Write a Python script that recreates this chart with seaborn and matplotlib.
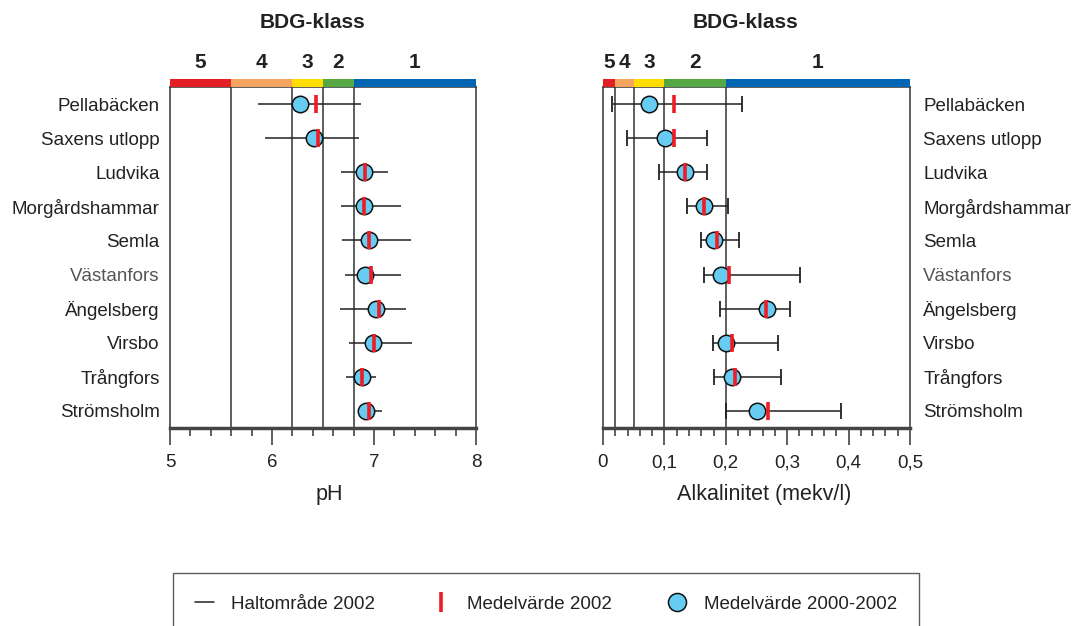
import pandas as pd
import numpy as np
import seaborn as sns
import matplotlib.pyplot as plt
from matplotlib.lines import Line2D
from matplotlib.patches import Rectangle
from matplotlib.transforms import blended_transform_factory
from matplotlib.ticker import MultipleLocator, FuncFormatter

# Data
stations = ['Pellabäcken', 'Saxens utlopp', 'Ludvika', 'Morgårdshammar', 'Semla',
            'Västanfors', 'Ängelsberg', 'Virsbo', 'Trångfors', 'Strömsholm']

ph_min = [5.86, 5.93, 6.68, 6.68, 6.69, 6.72, 6.67, 6.75, 6.73, 6.88]
ph_max = [6.87, 6.85, 7.14, 7.26, 7.36, 7.26, 7.31, 7.37, 7.02, 7.08]
ph_mean_2002 = [6.43, 6.45, 6.91, 6.90, 6.95, 6.97, 7.05, 7.00, 6.88, 6.95]
ph_mean_00_02 = [6.27, 6.41, 6.90, 6.90, 6.95, 6.91, 7.02, 6.99, 6.88, 6.92]

alk_min = [0.014, 0.039, 0.091, 0.136, 0.159, 0.164, 0.190, 0.179, 0.181, 0.201]
alk_max = [0.226, 0.169, 0.169, 0.204, 0.221, 0.321, 0.304, 0.285, 0.290, 0.387]
alk_mean_2002 = [0.115, 0.115, 0.134, 0.165, 0.186, 0.205, 0.265, 0.210, 0.215, 0.268]
alk_mean_00_02 = [0.075, 0.101, 0.134, 0.164, 0.180, 0.192, 0.267, 0.200, 0.210, 0.251]

# BDG class boundaries (class 5 -> 1)
ph_bounds = [5.0, 5.6, 6.2, 6.5, 6.8, 8.0]
alk_bounds = [0.0, 0.02, 0.05, 0.1, 0.2, 0.5]
class_labels = ['5', '4', '3', '2', '1']
class_colors = ['#E31E24', '#F5A55F', '#FFDD00', '#56A845', '#0066B3']

sns.set_style('white')
plt.rcParams['font.family'] = ['Liberation Sans', 'DejaVu Sans']
txt_col = '#222222'

df = pd.DataFrame({'station': stations, 'pos': np.arange(len(stations)),
                   'ph_min': ph_min, 'ph_max': ph_max,
                   'ph_m02': ph_mean_2002, 'ph_m0002': ph_mean_00_02,
                   'alk_min': alk_min, 'alk_max': alk_max,
                   'alk_m02': alk_mean_2002, 'alk_m0002': alk_mean_00_02})

fig = plt.figure(figsize=(10.76, 6.26), dpi=100)
ax1 = fig.add_axes([170 / 1076, 1 - 428 / 626, 306 / 1076, 341 / 626])
ax2 = fig.add_axes([603 / 1076, 1 - 428 / 626, 307 / 1076, 341 / 626])


def draw_panel(ax, key, bounds, caps, major, minor, fmt):
    lo, hi = df[key + '_min'], df[key + '_max']
    mid = (lo + hi) / 2
    ax.errorbar(mid, df['pos'], xerr=(hi - lo) / 2, fmt='none', ecolor='#222222',
                elinewidth=1.1, capsize=6 if caps else 0, capthick=1.3, zorder=3)
    sns.scatterplot(data=df, x=key + '_m0002', y='pos', ax=ax, s=140,
                    color='#66CCF2', edgecolor='#111111', linewidth=1.1, zorder=4,
                    legend=False)
    ax.plot(df[key + '_m02'], df['pos'], linestyle='none', marker='|',
            markersize=12.5, markeredgewidth=2.6, color='#EE1C25', zorder=5)

    # class boundaries
    for b in bounds[1:-1]:
        ax.axvline(b, color='#333333', lw=1.1, zorder=1)

    ax.set_xlim(bounds[0], bounds[-1])
    ax.set_ylim(9.5, -0.5)
    ax.set_yticks(df['pos'])
    ax.set_xlabel('')
    ax.set_ylabel('')
    ax.xaxis.set_major_locator(MultipleLocator(major))
    ax.xaxis.set_minor_locator(MultipleLocator(minor))
    ax.xaxis.set_major_formatter(FuncFormatter(fmt))
    ax.tick_params(axis='x', which='major', direction='out', length=12, width=1.1,
                   color='#333333', labelsize=13.5, labelcolor=txt_col, pad=7, bottom=True)
    ax.tick_params(axis='x', which='minor', direction='out', length=6, width=1.1,
                   color='#333333', bottom=True)
    for side in ['left', 'right', 'top']:
        ax.spines[side].set_color('#333333')
        ax.spines[side].set_linewidth(1.1)
    ax.spines['bottom'].set_color('#444444')
    ax.spines['bottom'].set_linewidth(2.5)

    # colored class bar on top of the axes
    trans = blended_transform_factory(ax.transData, ax.transAxes)
    for i in range(5):
        ax.add_patch(Rectangle((bounds[i], 1.0), bounds[i + 1] - bounds[i], 8 / 341,
                               transform=trans, color=class_colors[i], lw=0,
                               clip_on=False, zorder=6))
        ax.text((bounds[i] + bounds[i + 1]) / 2, 1 + 24 / 341, class_labels[i],
                transform=trans, ha='center', va='center', fontsize=15,
                fontweight='bold', color=txt_col)
    ax.text(0.5 - 11 / 307, 1 + 65 / 341, 'BDG-klass', transform=ax.transAxes,
            ha='center', va='center', fontsize=15, fontweight='bold', color=txt_col)


draw_panel(ax1, 'ph', ph_bounds, False, 1, 0.2, lambda v, p: f'{v:.0f}')
draw_panel(ax2, 'alk', alk_bounds, True, 0.1, 0.02,
           lambda v, p: '0' if abs(v) < 1e-9 else f'{v:.1f}'.replace('.', ','))

ax1.set_yticklabels(stations, fontsize=13.5, color=txt_col)
ax1.tick_params(axis='y', left=False, pad=4)
ax2.yaxis.tick_right()
ax2.set_yticklabels(stations, fontsize=13.5, color=txt_col)
ax2.tick_params(axis='y', right=False, left=False, pad=6)
for ax in (ax1, ax2):
    ax.get_yticklabels()[5].set_color('#555555')

ax1.set_xlabel('pH', fontsize=15.5, color=txt_col)
ax2.set_xlabel('Alkalinitet (mekv/l)', fontsize=15.5, color=txt_col)
ax1.xaxis.set_label_coords(0.5 + 6 / 306, -56 / 341)
ax2.xaxis.set_label_coords(0.5 + 8 / 307, -56 / 341)

handles = [
    Line2D([], [], color='#222222', lw=1.1),
    Line2D([], [], color='#EE1C25', linestyle='none', marker='|',
           markersize=14, markeredgewidth=2.6),
    Line2D([], [], color='#66CCF2', linestyle='none', marker='o', markersize=13,
           markeredgecolor='#111111', markeredgewidth=1.1),
]
leg = fig.legend(handles, ['Haltområde 2002', 'Medelvärde 2002', 'Medelvärde 2000-2002'],
                 loc='upper center', bbox_to_anchor=(546 / 1076, 1 - 573 / 626),
                 ncol=3, frameon=True, fancybox=False, fontsize=13.5,
                 handlelength=1.0, columnspacing=3.0, handletextpad=0.9,
                 borderpad=1.2, borderaxespad=0)
leg.get_frame().set_edgecolor('#333333')
leg.get_frame().set_linewidth(1.0)
for t in leg.get_texts():
    t.set_color(txt_col)

fig.savefig('out.png', dpi=100)
